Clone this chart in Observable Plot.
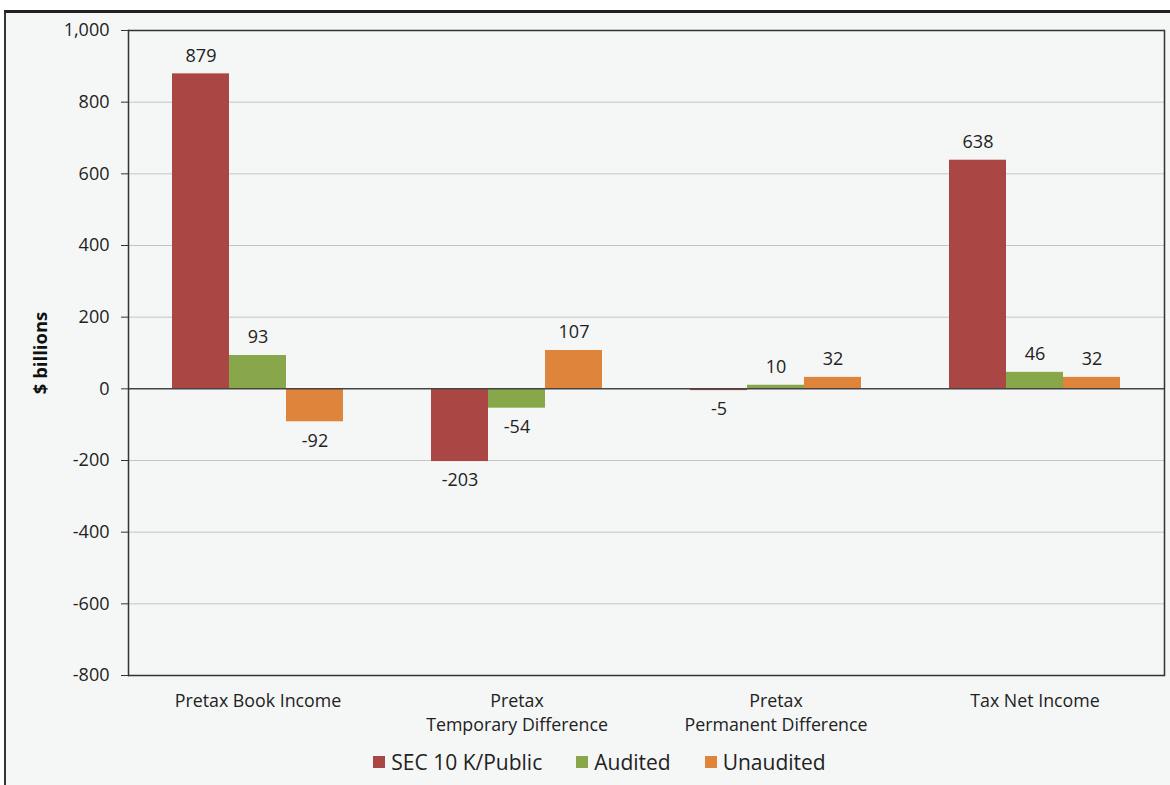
<!DOCTYPE html>
<html>
<head>
<meta charset="utf-8">
<script src="https://cdn.jsdelivr.net/npm/d3@7"></script>
<script src="https://cdn.jsdelivr.net/npm/@observablehq/plot@0.6"></script>
<style>
  html, body { margin: 0; padding: 0; background: #ffffff; }
  body { width: 1170px; height: 785px; position: relative; overflow: hidden; font-family: "Open Sans", sans-serif; }
  #panel { position: absolute; left: 4px; top: 10px; width: 1180px; height: 800px;
           background: #f5f7f6; border-top: 3px solid #222; border-left: 2px solid #333; }
  #chart { position: absolute; left: 0; top: 0; }
  #legend { position: absolute; top: 748px; left: 0; width: 1199px; display: flex; justify-content: center;
            gap: 34px; font-size: 21px; color: #222; }
  #legend span.item { display: inline-flex; align-items: center; gap: 6px; }
  #legend span.sw { width: 12px; height: 12px; display: inline-block; }
</style>
</head>
<body>
<div id="panel"></div>
<div id="chart"></div>
<div id="legend"></div>
<script>
const categories = ["Pretax Book Income", "Pretax\nTemporary Difference", "Pretax\nPermanent Difference", "Tax Net Income"];
const series = ["SEC 10 K/Public", "Audited", "Unaudited"];
const secPublic = [879, -203, -5, 638];
const audited = [93, -54, 10, 46];
const unaudited = [-92, 107, 32, 32];
const yTicks = [-800, -600, -400, -200, 0, 200, 400, 600, 800, 1000];
const colors = ["#aa4644", "#88a64a", "#df843b"];

const seriesValues = [secPublic, audited, unaudited];
const data = [];
categories.forEach((c, i) => {
  series.forEach((s, j) => data.push({category: c, series: s, value: seriesValues[j][i]}));
});

// thousands separator with a plain hyphen for negatives
const fmt = d => d.toLocaleString("en-US");

const plot = Plot.plot({
  width: 1170,
  height: 740,
  marginTop: 30,
  marginLeft: 127,
  marginRight: 5,
  marginBottom: 65,
  style: {background: "transparent", fontFamily: "Open Sans, sans-serif", fontSize: "17px", color: "#222"},
  fx: {domain: categories, padding: 0, axis: null},
  x: {domain: series, paddingInner: 0, paddingOuter: 0.754, axis: null},
  y: {domain: [-800, 1000], axis: null},
  color: {domain: series, range: colors},
  marks: [
    Plot.gridY(yTicks.filter(t => t !== 0 && t !== 1000 && t !== -800), {stroke: "#c4c4c4", strokeOpacity: 1, strokeWidth: 1}),
    Plot.barY(data, {fx: "category", x: "series", y: "value", fill: "series"}),
    Plot.ruleY([0], {stroke: "#444", strokeWidth: 1.5}),
    Plot.ruleY([1000, -800], {stroke: "#333", strokeWidth: 1.5}),
    Plot.frame({anchor: "left", facetAnchor: "left", stroke: "#333", strokeWidth: 1.5}),
    Plot.frame({anchor: "right", facetAnchor: "right", stroke: "#333", strokeWidth: 1.5}),
    Plot.axisY({ticks: yTicks, tickFormat: fmt, tickSize: 7, tickPadding: 12, stroke: "#333", fontSize: 18, label: null}),
    Plot.text(data.filter(d => d.value >= 0), {fx: "category", x: "series", y: "value", text: d => fmt(d.value), dy: -18, fill: "#222", fontSize: 18}),
    Plot.text(data.filter(d => d.value < 0), {fx: "category", x: "series", y: "value", text: d => fmt(d.value), dy: 19, fill: "#222", fontSize: 18}),
    Plot.axisFx({anchor: "bottom", tickSize: 0, tickPadding: 15, lineHeight: 1.32, fontSize: 17.8, label: null}),
    Plot.text(["$ billions"], {frameAnchor: "left", textAnchor: "middle", dx: -87, rotate: -90, fontWeight: "bold", fontSize: 18.5, fill: "#111", facetAnchor: "left"})
  ]
});
document.getElementById("chart").appendChild(plot);

const legend = document.getElementById("legend");
series.forEach((s, j) => {
  const item = document.createElement("span");
  item.className = "item";
  const sw = document.createElement("span");
  sw.className = "sw";
  sw.style.background = colors[j];
  item.appendChild(sw);
  item.appendChild(document.createTextNode(s));
  legend.appendChild(item);
});
</script>
</body>
</html>
